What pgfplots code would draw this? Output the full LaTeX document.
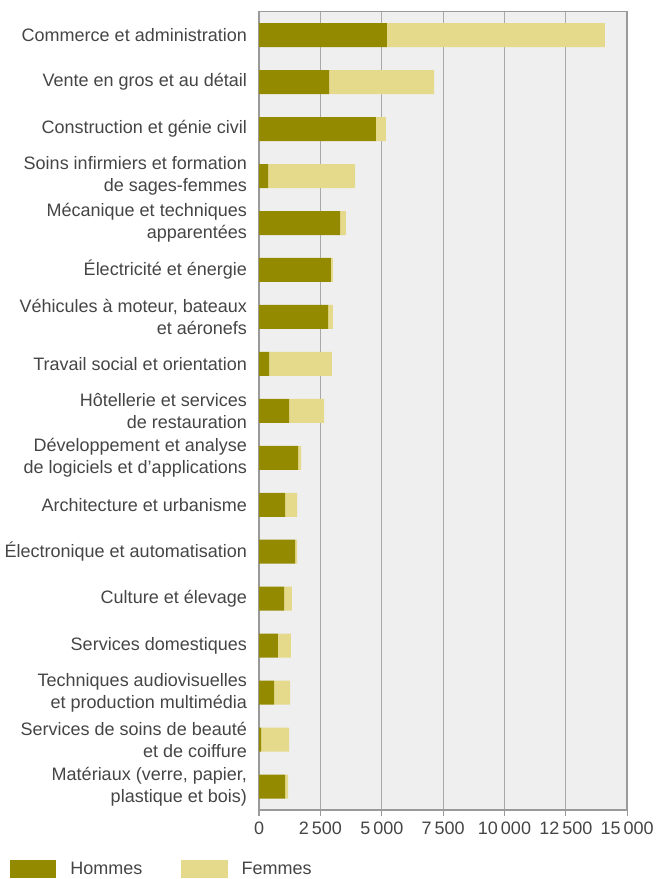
\documentclass[border=0pt]{standalone}
\usepackage{pgfplots}
\pgfplotsset{compat=1.18}
\usepackage{fontspec}
\setmainfont{Liberation Sans}
\definecolor{men}{HTML}{938A00}
\definecolor{women}{HTML}{E5DA8C}
\definecolor{bgc}{HTML}{EFEFEF}
\definecolor{gridc}{HTML}{A8A8A8}
\definecolor{framec}{HTML}{9A9A9A}
\definecolor{txt}{HTML}{454545}
\begin{document}
\begin{tikzpicture}
\begin{axis}[
  name=ax,
  scale only axis, width=368pt, height=798pt,
  xbar stacked, bar width=24pt,
  xmin=0, xmax=15000,
  ymin=-0.5, ymax=16.5, y dir=reverse,
  ytick={0,...,16},
  yticklabels={
    Commerce et administration,
    Vente en gros et au détail,
    Construction et génie civil,
    Soins infirmiers et formation\\de sages-femmes,
    Mécanique et techniques\\apparentées,
    Électricité et énergie,
    {Véhicules à moteur, bateaux\\et aéronefs},
    Travail social et orientation,
    Hôtellerie et services\\de restauration,
    Développement et analyse\\de logiciels et d’applications,
    Architecture et urbanisme,
    Électronique et automatisation,
    Culture et élevage,
    Services domestiques,
    Techniques audiovisuelles\\et production multimédia,
    Services de soins de beauté\\et de coiffure,
    {Matériaux (verre, papier,\\plastique et bois)}
  },
  yticklabel style={align=right, font=\fontsize{18}{22}\selectfont, text=txt, inner sep=0pt, xshift=-6pt},
  ytick style={draw=none},
  tick align=outside,
  major tick length=6pt,
  xtick={0,2500,5000,7500,10000,12500,15000},
  scaled x ticks=false,
  xtick pos=left, ytick pos=left,
  xtick style={draw=framec, line width=1.2pt},
  xticklabel style={font=\fontsize{18}{22}\selectfont, text=txt, inner sep=0pt, yshift=-6pt,
    /pgf/number format/fixed, /pgf/number format/1000 sep={\,}},
  /pgf/number format/assume math mode=true,
  axis background/.style={fill=bgc},
  axis line style={draw=framec, line width=1.5pt},
  xmajorgrids, grid style={draw=gridc, line width=1.2pt},
  legend style={at={(-0.676,-0.0626)}, anchor=north west, draw=none, fill=none,
    legend columns=2, font=\fontsize{18}{22}\selectfont, text=txt, inner sep=0pt,
    /tikz/every odd column/.append style={column sep=12pt},
    /tikz/every even column/.append style={column sep=37pt}},
  legend image code/.code={\fill[#1] (0pt,-9pt) rectangle (46pt,9pt);},
]
\addplot[fill=men, draw=none] coordinates {
(5210,0) (2850,1) (4760,2) (370,3) (3300,4) (2930,5) (2810,6) (410,7) (1220,8)
(1590,9) (1060,10) (1470,11) (1020,12) (770,13) (610,14) (80,15) (1060,16)};
\addplot[fill=women, draw=none] coordinates {
(8880,0) (4280,1) (410,2) (3540,3) (240,4) (80,5) (200,6) (2560,7) (1430,8)
(120,9) (490,10) (80,11) (320,12) (530,13) (650,14) (1140,15) (120,16)};
\legend{Hommes, Femmes}
\end{axis}
\path ([xshift=-259pt, yshift=-69pt]ax.south west) rectangle ([xshift=28pt, yshift=11.7pt]ax.north east);
\end{tikzpicture}
\end{document}
